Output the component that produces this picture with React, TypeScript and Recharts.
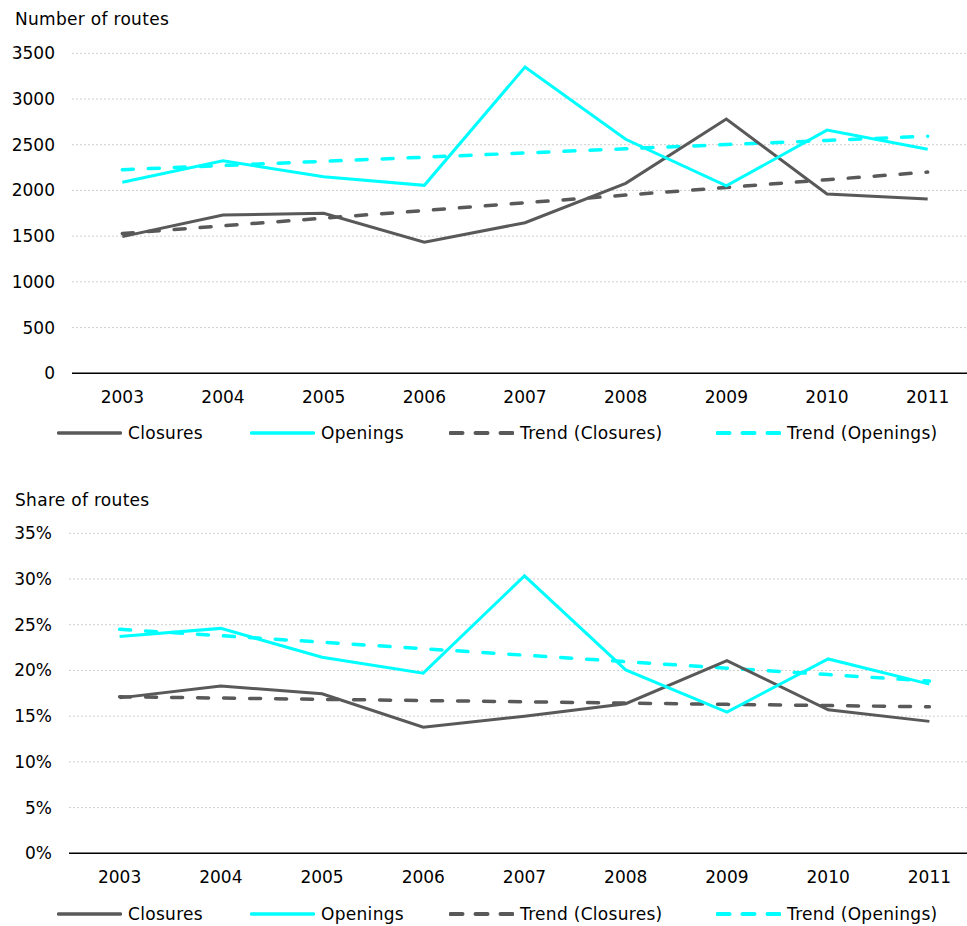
import React from 'react'
import { LineChart, Line, XAxis, YAxis, CartesianGrid } from 'recharts'

const years = ['2003', '2004', '2005', '2006', '2007', '2008', '2009', '2010', '2011']

// number of routes
const closures = [1495, 1731, 1750, 1433, 1647, 2078, 2781, 1961, 1906]
const openings = [2090, 2325, 2150, 2056, 3350, 2560, 2050, 2660, 2450]
const trendClosures = [1529, 1613, 1697, 1781, 1865, 1949, 2033, 2117, 2201]
const trendOpenings = [2227, 2273, 2319, 2364, 2410, 2456, 2502, 2547, 2593]
const countTicks = [0, 500, 1000, 1500, 2000, 2500, 3000, 3500]

// share of routes (%)
const closuresShare = [17.0, 18.3, 17.45, 13.8, 15.0, 16.36, 21.08, 15.7, 14.43]
const openingsShare = [23.7, 24.6, 21.45, 19.7, 30.35, 20.06, 15.45, 21.26, 18.5]
const trendClosuresShare = [17.12, 16.98, 16.84, 16.71, 16.57, 16.43, 16.29, 16.16, 16.02]
const trendOpeningsShare = [24.5, 23.8, 23.09, 22.38, 21.67, 20.96, 20.25, 19.55, 18.84]
const shareTicks = [0, 5, 10, 15, 20, 25, 30, 35]

const GRAY = '#595959'
const CYAN = '#00FFFF'
const FONT = '"DejaVu Sans", Verdana, sans-serif'

const legendItems = [
    { name: 'Closures', color: GRAY, dashed: false, x: 57 },
    { name: 'Openings', color: CYAN, dashed: false, x: 250 },
    { name: 'Trend (Closures)', color: GRAY, dashed: true, x: 449 },
    { name: 'Trend (Openings)', color: CYAN, dashed: true, x: 716 },
]

const Legend: React.FC<{ top: number }> = ({ top }) => (
    <>
        {legendItems.map((it) => (
            <div
                key={it.name}
                style={{
                    position: 'absolute',
                    top,
                    left: it.x,
                    height: 20,
                    display: 'flex',
                    alignItems: 'center',
                    fontFamily: FONT,
                    fontSize: 17,
                    lineHeight: '20px',
                    color: '#000',
                    whiteSpace: 'nowrap',
                }}
            >
                <svg width={65} height={8} style={{ marginRight: 6, display: 'block' }}>
                    <line
                        x1={1.5}
                        y1={4}
                        x2={63.5}
                        y2={4}
                        stroke={it.color}
                        strokeWidth={it.dashed ? 4 : 3.5}
                        strokeDasharray={it.dashed ? '12 13' : undefined}
                        strokeLinecap="round"
                    />
                </svg>
                <span style={{ letterSpacing: 0.3 }}>{it.name}</span>
            </div>
        ))}
    </>
)

const Title: React.FC<{ top: number; text: string }> = ({ top, text }) => (
    <div
        style={{
            position: 'absolute',
            top,
            left: 15,
            fontFamily: FONT,
            fontSize: 17,
            lineHeight: '20px',
            letterSpacing: 0.3,
            color: '#000',
        }}
    >
        {text}
    </div>
)

const tickStyle = { fontFamily: FONT, fontSize: 17, fill: '#000' }

interface ChartProps {
    rows: Record<string, number | string>[]
    ticks: number[]
    yWidth: number
    width: number
    pct?: boolean
}

const Chart: React.FC<ChartProps> = ({ rows, ticks, yWidth, width, pct }) => (
    <LineChart
        width={width}
        height={420}
        data={rows}
        margin={{ top: 53.3, right: 1, bottom: 16, left: 0 }}
    >
        <CartesianGrid vertical={false} stroke="#cfcfcf" strokeDasharray="2 2" />
        <XAxis
            dataKey="year"
            scale="band"
            height={30.7}
            tickSize={0}
            tickMargin={18}
            axisLine={{ stroke: '#000', strokeWidth: 1.5 }}
            tickLine={false}
            tick={tickStyle}
            interval={0}
        />
        <YAxis
            width={yWidth}
            domain={[ticks[0], ticks[ticks.length - 1]]}
            ticks={ticks}
            tickSize={0}
            tickMargin={17}
            axisLine={false}
            tickLine={false}
            tick={tickStyle}
            tickFormatter={(v: number) => (pct ? `${v}%` : `${v}`)}
        />
        <Line dataKey="trendClosures" stroke={GRAY} strokeWidth={3.5} strokeDasharray="11 15" strokeLinecap="round" dot={false} activeDot={false} isAnimationActive={false} />
        <Line dataKey="trendOpenings" stroke={CYAN} strokeWidth={3.5} strokeDasharray="11 15" strokeLinecap="round" dot={false} activeDot={false} isAnimationActive={false} />
        <Line dataKey="closures" stroke={GRAY} strokeWidth={3} dot={false} activeDot={false} isAnimationActive={false} />
        <Line dataKey="openings" stroke={CYAN} strokeWidth={3} dot={false} activeDot={false} isAnimationActive={false} />
    </LineChart>
)

export default function App() {
    const countRows = years.map((year, i) => ({
        year,
        closures: closures[i],
        openings: openings[i],
        trendClosures: trendClosures[i],
        trendOpenings: trendOpenings[i],
    }))
    const shareRows = years.map((year, i) => ({
        year,
        closures: closuresShare[i],
        openings: openingsShare[i],
        trendClosures: trendClosuresShare[i],
        trendOpenings: trendOpeningsShare[i],
    }))

    return (
        <div
            style={{
                position: 'absolute',
                left: 0,
                top: 0,
                width: 967,
                height: 926,
                overflow: 'hidden',
                background: '#fff',
            }}
        >
            <Title top={9} text="Number of routes" />
            <div style={{ position: 'absolute', left: 0, top: 0 }}>
                <Chart rows={countRows} ticks={countTicks} yWidth={72} width={979} />
            </div>
            <Legend top={423.3} />

            <Title top={490} text="Share of routes" />
            <div style={{ position: 'absolute', left: 0, top: 480 }}>
                <Chart rows={shareRows} ticks={shareTicks} yWidth={69} width={981} pct />
            </div>
            <Legend top={904} />
        </div>
    )
}
